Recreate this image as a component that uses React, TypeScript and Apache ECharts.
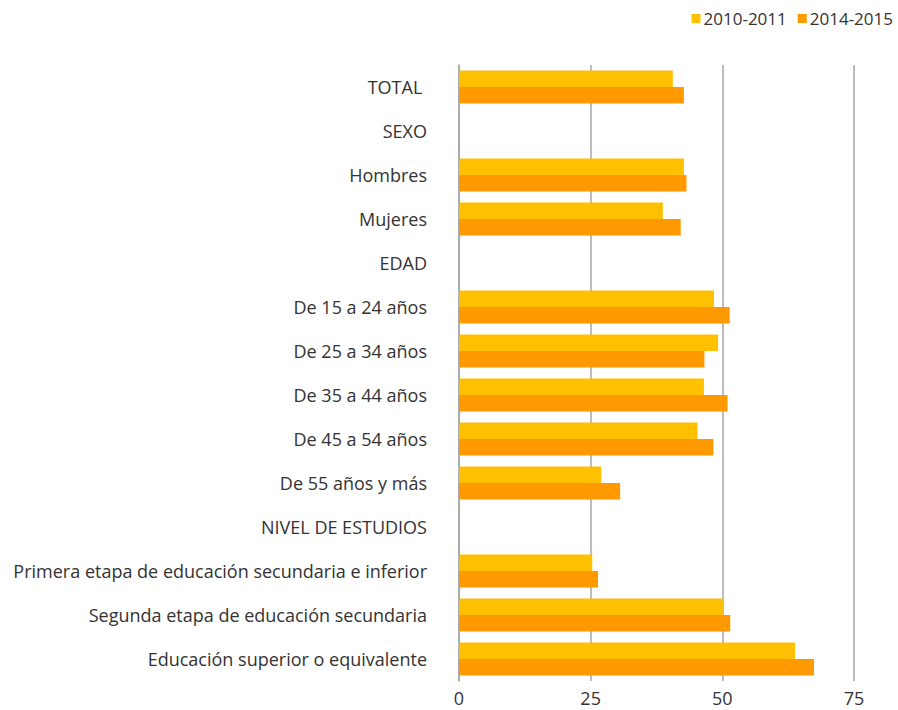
import React, { useEffect, useRef } from "react";
import * as echarts from "echarts";

const categories = [
  "TOTAL ",
  "SEXO",
  "Hombres",
  "Mujeres",
  "EDAD",
  "De 15 a 24 años",
  "De 25 a 34 años",
  "De 35 a 44 años",
  "De 45 a 54 años",
  "De 55 años y más",
  "NIVEL DE ESTUDIOS",
  "Primera etapa de educación secundaria e inferior",
  "Segunda etapa de educación secundaria",
  "Educación superior o equivalente",
];

const s2010: (number | null)[] = [40.6, null, 42.7, 38.7, null, 48.4, 49.2, 46.5, 45.3, 27.0, null, 25.3, 50.1, 63.8];
const s2014: (number | null)[] = [42.7, null, 43.2, 42.1, null, 51.4, 46.6, 51.0, 48.3, 30.6, null, 26.4, 51.5, 67.4];

const xTicks = { min: 0, max: 75, interval: 25 };
const seriesNames = ["2010-2011", "2014-2015"];
const colors = ["#FFC000", "#FF9900"];

export default function App() {
  const ref = useRef<HTMLDivElement>(null);
  useEffect(() => {
    const chart = echarts.init(ref.current!, null, { renderer: "svg" });
    const font = "'Open Sans', sans-serif";
    chart.setOption({
      animation: false,
      color: colors,
      textStyle: { fontFamily: font },
      legend: {
        top: 10,
        right: 5,
        padding: 0,
        itemWidth: 9,
        itemHeight: 9,
        itemGap: 11,
        icon: "rect",
        textStyle: { fontSize: 17, color: "#333", fontFamily: font, padding: [0, 0, 0, -2] },
        data: seriesNames,
      },
      grid: { left: 459, right: 44, top: 65, bottom: 29 },
      xAxis: {
        type: "value",
        min: xTicks.min,
        max: xTicks.max,
        interval: xTicks.interval,
        axisLine: { show: false },
        axisTick: { show: false },
        axisLabel: { fontSize: 18, lineHeight: 18, color: "#333", margin: 8, fontFamily: font },
        splitLine: { show: true, lineStyle: { color: "#a6a6a6", width: 1.5 } },
      },
      yAxis: {
        type: "category",
        inverse: true,
        data: categories,
        axisLine: { show: true, lineStyle: { color: "#a6a6a6", width: 1.5 } },
        axisTick: { show: false },
        axisLabel: { fontSize: 18, color: "#333", margin: 32, fontFamily: font },
      },
      series: [
        { name: seriesNames[0], type: "bar", data: s2010, barGap: "0%", barCategoryGap: "25%" },
        { name: seriesNames[1], type: "bar", data: s2014, barGap: "0%", barCategoryGap: "25%" },
      ],
    });
    return () => chart.dispose();
  }, []);
  return <div ref={ref} style={{ width: 898, height: 710, position: "absolute", left: 0, top: 0 }} />;
}
